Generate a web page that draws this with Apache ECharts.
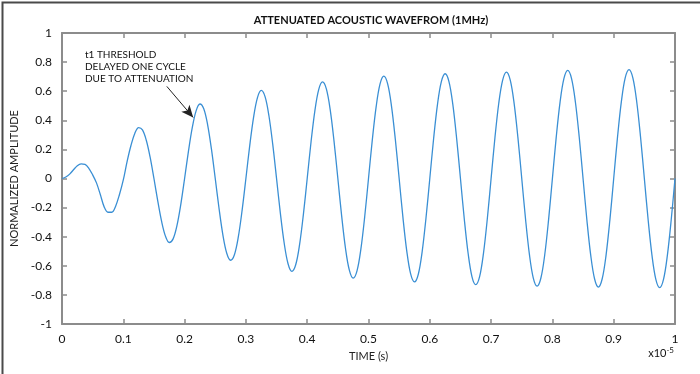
<!DOCTYPE html>
<html>
<head>
<meta charset="utf-8">
<script src="https://cdn.jsdelivr.net/npm/echarts@6/dist/echarts.min.js"></script>
<style>
  html, body { margin: 0; padding: 0; background: #fff; }
  #chart { width: 700px; height: 374px; }
</style>
</head>
<body>
<div id="chart"></div>
<script>
const chartTitle = 'ATTENUATED ACOUSTIC WAVEFROM (1MHz)';
const xAxisTitle = 'TIME (s)';
const yAxisTitle = 'NORMALIZED AMPLITUDE';
const xScaleNote = 'x10';
const xScaleExp = '-5';
const annotationLines = ['t1 THRESHOLD', 'DELAYED ONE CYCLE', 'DUE TO ATTENUATION'];
const arrowFrom = [0.171, 0.633];
const arrowTo = [0.214, 0.42];

// Time in units of 1e-5 s (one row per half cycle)
const time = [
  0, 0.00625, 0.0125, 0.01875, 0.025, 0.03125, 0.0375, 0.04375,
  0.05, 0.05625, 0.0625, 0.06875, 0.075, 0.08125, 0.0875, 0.09375,
  0.1, 0.10625, 0.1125, 0.11875, 0.125, 0.13125, 0.1375, 0.14375,
  0.15, 0.15625, 0.1625, 0.16875, 0.175, 0.18125, 0.1875, 0.19375,
  0.2, 0.20625, 0.2125, 0.21875, 0.225, 0.23125, 0.2375, 0.24375,
  0.25, 0.25625, 0.2625, 0.26875, 0.275, 0.28125, 0.2875, 0.29375,
  0.3, 0.30625, 0.3125, 0.31875, 0.325, 0.33125, 0.3375, 0.34375,
  0.35, 0.35625, 0.3625, 0.36875, 0.375, 0.38125, 0.3875, 0.39375,
  0.4, 0.40625, 0.4125, 0.41875, 0.425, 0.43125, 0.4375, 0.44375,
  0.45, 0.45625, 0.4625, 0.46875, 0.475, 0.48125, 0.4875, 0.49375,
  0.5, 0.50625, 0.5125, 0.51875, 0.525, 0.53125, 0.5375, 0.54375,
  0.55, 0.55625, 0.5625, 0.56875, 0.575, 0.58125, 0.5875, 0.59375,
  0.6, 0.60625, 0.6125, 0.61875, 0.625, 0.63125, 0.6375, 0.64375,
  0.65, 0.65625, 0.6625, 0.66875, 0.675, 0.68125, 0.6875, 0.69375,
  0.7, 0.70625, 0.7125, 0.71875, 0.725, 0.73125, 0.7375, 0.74375,
  0.75, 0.75625, 0.7625, 0.76875, 0.775, 0.78125, 0.7875, 0.79375,
  0.8, 0.80625, 0.8125, 0.81875, 0.825, 0.83125, 0.8375, 0.84375,
  0.85, 0.85625, 0.8625, 0.86875, 0.875, 0.88125, 0.8875, 0.89375,
  0.9, 0.90625, 0.9125, 0.91875, 0.925, 0.93125, 0.9375, 0.94375,
  0.95, 0.95625, 0.9625, 0.96875, 0.975, 0.98125, 0.9875, 0.99375,
  1.0
];
// Normalized amplitude
const amplitude = [
  0, 0.01, 0.03, 0.06, 0.088, 0.1, 0.097, 0.07,
  0.025, -0.03, -0.11, -0.195, -0.232, -0.232, -0.19, -0.11,
  -0.01, 0.118, 0.227, 0.31, 0.35, 0.334, 0.263, 0.147,
  0, -0.155, -0.295, -0.396, -0.44, -0.415, -0.324, -0.179,
  0, 0.186, 0.349, 0.465, 0.512, 0.479, 0.371, 0.203,
  0, -0.208, -0.389, -0.514, -0.562, -0.524, -0.405, -0.221,
  0, 0.226, 0.42, 0.554, 0.605, 0.563, 0.433, 0.236,
  0, -0.24, -0.445, -0.586, -0.638, -0.593, -0.456, -0.248,
  0, 0.251, 0.465, 0.611, 0.664, 0.616, 0.473, 0.257,
  0, -0.259, -0.481, -0.63, -0.685, -0.635, -0.487, -0.265,
  0, 0.267, 0.494, 0.648, 0.703, 0.65, 0.498, 0.27,
  0, -0.271, -0.501, -0.656, -0.711, -0.658, -0.504, -0.273,
  0, 0.275, 0.508, 0.664, 0.72, 0.666, 0.511, 0.277,
  0, -0.278, -0.514, -0.674, -0.73, -0.675, -0.516, -0.28,
  0, 0.28, 0.517, 0.675, 0.731, 0.676, 0.518, 0.281,
  0, -0.282, -0.522, -0.683, -0.74, -0.684, -0.524, -0.284,
  0, 0.284, 0.525, 0.686, 0.743, 0.687, 0.526, 0.285,
  0, -0.285, -0.527, -0.689, -0.746, -0.689, -0.528, -0.286,
  0, 0.286, 0.528, 0.691, 0.748, 0.691, 0.529, 0.287,
  0, -0.287, -0.53, -0.693, -0.75, -0.693, -0.53, -0.287,
  0
];

const seriesData = time.map((t, i) => [t, amplitude[i]]);
const FONT = 'Lato';
const axisColor = '#8c8c8c';

const chart = echarts.init(document.getElementById('chart'), null, { renderer: 'canvas' });

const xFmt = v => (v === 0 ? '0' : v === 1 ? '1' : v.toFixed(1));
const yFmt = v => (v === 0 ? '0' : v === 1 ? '1' : v === -1 ? '-1' : v.toFixed(1));

const baseAxisLine = { show: true, onZero: false, lineStyle: { color: axisColor, width: 2 } };
const baseTick = { show: true, inside: true, length: 5, lineStyle: { color: axisColor, width: 1.5 } };

chart.setOption({
  animation: false,
  backgroundColor: '#fff',
  title: {
    text: chartTitle,
    left: 366,
    top: 10,
    textAlign: 'center',
    textStyle: { fontFamily: FONT, fontSize: 11, fontWeight: 'bold', color: '#111' }
  },
  grid: { left: 62, right: 25, top: 33, bottom: 50 },
  xAxis: [{
    type: 'value', min: 0, max: 1, interval: 0.1, position: 'bottom',
    name: xAxisTitle, nameLocation: 'middle', nameGap: 27,
    nameTextStyle: { fontFamily: FONT, fontSize: 11, color: '#222' },
    axisLine: baseAxisLine, axisTick: baseTick,
    axisLabel: { formatter: xFmt, margin: 9, fontFamily: FONT, fontSize: 12, color: '#111' },
    splitLine: { show: false }
  }, {
    type: 'value', min: 0, max: 1, interval: 0.1, position: 'top',
    axisLine: baseAxisLine, axisTick: baseTick,
    axisLabel: { show: false }, splitLine: { show: false }
  }],
  yAxis: [{
    type: 'value', min: -1, max: 1, interval: 0.2, position: 'left',
    name: yAxisTitle, nameLocation: 'middle', nameGap: 33, nameRotate: 90,
    nameTextStyle: { fontFamily: FONT, fontSize: 11, color: '#222' },
    axisLine: baseAxisLine, axisTick: baseTick,
    axisLabel: { formatter: yFmt, margin: 10, fontFamily: FONT, fontSize: 12, color: '#111' },
    splitLine: { show: false }
  }, {
    type: 'value', min: -1, max: 1, interval: 0.2, position: 'right',
    axisLine: baseAxisLine, axisTick: baseTick,
    axisLabel: { show: false }, splitLine: { show: false }
  }],
  graphic: [
    {
      type: 'rect', left: 0, top: 0, silent: true,
      shape: { x: 0, y: 0, width: 699, height: 373 },
      style: { fill: 'none', stroke: '#4a4a4a', lineWidth: 2 }
    },
    {
      type: 'text', left: 85, top: 49, silent: true,
      style: {
        text: annotationLines.join('\n'),
        font: '10px ' + FONT, fill: '#111', lineHeight: 12
      }
    },
    {
      type: 'text', right: 26, top: 346, silent: true,
      style: {
        text: '{b|' + xScaleNote + '}{s|' + xScaleExp + '}',
        rich: {
          b: { fontFamily: FONT, fontSize: 11, fill: '#111', color: '#111' },
          s: { fontFamily: FONT, fontSize: 8, fill: '#111', color: '#111', verticalAlign: 'top', padding: [0, 0, 6, 0] }
        }
      }
    }
  ],
  series: [{
    type: 'line',
    data: seriesData,
    xAxisIndex: 0, yAxisIndex: 0,
    smooth: 0.34,
    showSymbol: false,
    symbol: 'none',
    lineStyle: { color: '#3a8fd4', width: 1.3 },
    markLine: {
      silent: true,
      symbol: ['none', 'arrow'],
      symbolSize: [8, 12],
      label: { show: false },
      lineStyle: { color: '#222', width: 1, type: 'solid' },
      data: [[{ coord: arrowFrom }, { coord: arrowTo }]]
    }
  }]
});
</script>
</body>
</html>
